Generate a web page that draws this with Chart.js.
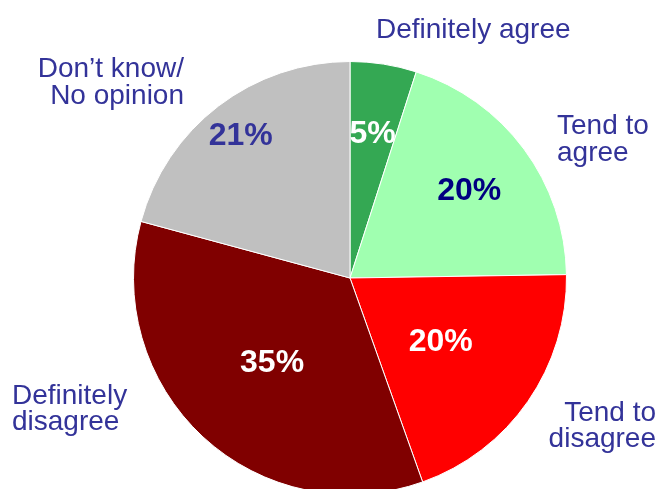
<!DOCTYPE html>
<html>
<head>
<meta charset="utf-8">
<script src="https://cdn.jsdelivr.net/npm/chart.js@4/dist/chart.umd.min.js"></script>
<style>
html,body{margin:0;padding:0;background:#fff;overflow:hidden;}
#wrap{position:relative;width:658px;height:500px;}
</style>
</head>
<body>
<div id="wrap"><canvas id="c" width="658" height="500"></canvas></div>
<script>
// Data
const categories = ["Definitely agree", "Tend to agree", "Tend to disagree", "Definitely disagree", "Don\u2019t know/ No opinion"];
const values = [5, 20, 20, 35, 21];
const valueLabels = ["5%", "20%", "20%", "35%", "21%"];

// Styles
const sliceColors = ["#34A853", "#A0FFB0", "#FF0000", "#800000", "#C0C0C0"];
const valueLabelColors = ["#FFFFFF", "#000080", "#FFFFFF", "#FFFFFF", "#333399"];
const valueLabelRadius = [0.676, 0.685, 0.51, 0.53, 0.83];
// outer category label layout: lines, anchor x, baselines, align
const categoryLayout = [
  {lines: ["Definitely agree"], x: 376, y: [38], align: "left"},
  {lines: ["Tend to", "agree"], x: 557, y: [134, 161], align: "left"},
  {lines: ["Tend to", "disagree"], x: 656, y: [421, 447], align: "right"},
  {lines: ["Definitely", "disagree"], x: 12, y: [404, 430], align: "left"},
  {lines: ["Don\u2019t know/", "No opinion"], x: 184, y: [77, 104], align: "right"}
];

const labelPlugin = {
  id: "pieLabels",
  afterDraw(chart) {
    const ctx = chart.ctx;
    const meta = chart.getDatasetMeta(0);
    ctx.save();
    // value labels
    ctx.font = "bold 32px 'Liberation Sans', Arial, sans-serif";
    ctx.textAlign = "center";
    ctx.textBaseline = "middle";
    meta.data.forEach((arc, i) => {
      const p = arc.getProps(["x", "y", "startAngle", "endAngle", "outerRadius"], true);
      const mid = (p.startAngle + p.endAngle) / 2;
      const r = p.outerRadius * valueLabelRadius[i];
      ctx.fillStyle = valueLabelColors[i];
      ctx.fillText(valueLabels[i], p.x + Math.cos(mid) * r, p.y + Math.sin(mid) * r + 1);
    });
    // category labels
    ctx.font = "28px 'Liberation Sans', Arial, sans-serif";
    ctx.textBaseline = "alphabetic";
    ctx.fillStyle = "#333399";
    categoryLayout.forEach(l => {
      ctx.textAlign = l.align;
      l.lines.forEach((t, j) => ctx.fillText(t, l.x, l.y[j]));
    });
    ctx.restore();
  }
};

new Chart(document.getElementById("c"), {
  type: "pie",
  data: {
    labels: categories,
    datasets: [{
      data: values,
      backgroundColor: sliceColors,
      borderColor: "#FFFFFF",
      borderWidth: 1
    }]
  },
  options: {
    responsive: false,
    animation: false,
    layout: {padding: {left: 133, right: 91, top: 61, bottom: 5}},
    plugins: {legend: {display: false}, tooltip: {enabled: false}}
  },
  plugins: [labelPlugin]
});
</script>
</body>
</html>
